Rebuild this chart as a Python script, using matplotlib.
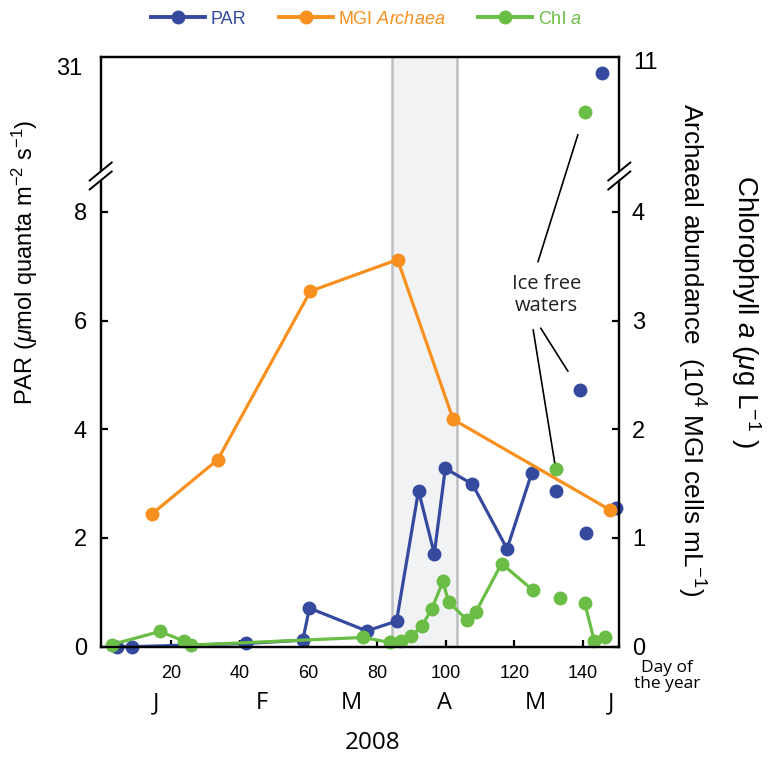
import matplotlib
matplotlib.use('Agg')
import matplotlib.pyplot as plt
from matplotlib.lines import Line2D
from matplotlib.patches import ConnectionPatch

plt.rcParams['font.family'] = ['Liberation Sans', 'DejaVu Sans']
plt.rcParams['mathtext.fontset'] = 'custom'
plt.rcParams['mathtext.rm'] = 'Liberation Sans'
plt.rcParams['mathtext.it'] = 'Liberation Sans:italic'
plt.rcParams['mathtext.default'] = 'regular'

BLUE = '#354a9f'
ORANGE = '#f7901e'
GREEN = '#6abd45'

# PAR (left axis), joined stations
par_days = [4.2, 8.5, 41.9, 58.4, 60.3, 77.0, 85.7, 92.1, 96.7, 99.9, 107.8, 117.9, 125.1]
par_vals = [0.0, 0.0, 0.06, 0.12, 0.71, 0.29, 0.47, 2.87, 1.71, 3.28, 2.99, 1.80, 3.20]
# PAR, single stations
par_free_days = [132.1, 139.1, 140.8, 149.5]
par_free_vals = [2.86, 4.72, 2.09, 2.56]
par_high_days = [145.7]
par_high_vals = [30.84]

# MGI Archaea (right axis, 10^4 cells/mL)
mgi_days = [14.4, 33.6, 60.6, 86.0, 102.2, 147.8]
mgi_vals = [1.22, 1.72, 3.27, 3.56, 2.09, 1.26]

# Chl a (right axis, ug/L)
chl_days = [2.7, 16.8, 23.9, 25.8, 75.9, 83.7, 86.9, 90.0, 93.1, 96.0, 99.2,
            100.9, 106.1, 108.8, 116.3, 125.4]
chl_vals = [0.02, 0.14, 0.05, 0.015, 0.085, 0.04, 0.055, 0.095, 0.19, 0.35, 0.60,
            0.41, 0.25, 0.32, 0.765, 0.52]
chl_free_days = [132.1, 133.2]
chl_free_vals = [1.63, 0.45]
chl_end_days = [140.5, 143.3, 146.3]
chl_end_vals = [0.405, 0.055, 0.09]
chl_high_days = [140.6]
chl_high_vals = [9.70]

ice_span = (84.4, 103.3)

month_labels = ['J', 'F', 'M', 'A', 'M', 'J']
month_pos = [15.6, 46.3, 72.4, 99.8, 126.0, 148.1]

FW, FH = 771, 760
fig = plt.figure(figsize=(FW / 100, FH / 100), dpi=100)

x0, x1 = 100.7, 619.3
ybot, ybrk, ytop = 646.7, 177.0, 57.3
ax = fig.add_axes([x0 / FW, 1 - ybot / FH, (x1 - x0) / FW, (ybot - ybrk) / FH])
axt = fig.add_axes([x0 / FW, 1 - ybrk / FH, (x1 - x0) / FW, (ybrk - ytop) / FH], sharex=ax)
axr = ax.twinx()
axtr = axt.twinx()

for a in (ax, axt):
    a.axvspan(*ice_span, facecolor='#f1f2f4', edgecolor='none', zorder=0)
    for d in ice_span:
        a.axvline(d, color='#bcbec0', lw=1.8, zorder=0.5)

mk = dict(marker='o', markersize=9, lw=2.3, clip_on=False)
ax.plot(par_days, par_vals, color=BLUE, **mk)
ax.plot(par_free_days, par_free_vals, color=BLUE, ls='none', **mk)
axt.plot(par_high_days, par_high_vals, color=BLUE, ls='none', **mk)

axr.plot(mgi_days, mgi_vals, color=ORANGE, **mk)
axr.plot(chl_days, chl_vals, color=GREEN, **mk)
axr.plot(chl_free_days, chl_free_vals, color=GREEN, ls='none', **mk)
axr.plot(chl_end_days, chl_end_vals, color=GREEN, **mk)
axtr.plot(chl_high_days, chl_high_vals, color=GREEN, ls='none', **mk)

ax.set_xlim(-0.5, 150.6)
ax.set_ylim(0, 8.64)
axr.set_ylim(0, 4.32)
axt.set_ylim(28.25, 31.24)
axtr.set_ylim(8.08, 11.07)

for a in (ax, axr):
    a.spines['top'].set_visible(False)
for a in (axt, axtr):
    a.spines['bottom'].set_visible(False)
for a in (ax, axr, axt, axtr):
    for s in a.spines.values():
        s.set_linewidth(1.6)

ax.set_xticks(range(20, 141, 20))
ax.tick_params(axis='x', direction='in', length=5, width=1.6, labelsize=13, pad=13)
ax.set_yticks([0, 2, 4, 6, 8])
ax.tick_params(axis='y', direction='in', length=5, width=1.6, labelsize=17, pad=10)
axr.set_yticks([0, 1, 2, 3, 4])
axr.tick_params(axis='y', direction='in', length=5, width=1.6, labelsize=17, pad=9)
axt.set_yticks([31])
axt.tick_params(axis='y', length=0, labelsize=17, pad=13)
axt.tick_params(axis='x', bottom=False, labelbottom=False)
axtr.set_yticks([11])
axtr.tick_params(axis='y', length=0, labelsize=17, pad=10)

# axis break marks
for xb in (x0, x1):
    yb = ybrk - 1
    fig.add_artist(Line2D([(xb - 9) / FW, (xb + 9) / FW], [1 - (yb + 7) / FH, 1 - (yb - 7) / FH],
                          color='white', lw=4, transform=fig.transFigure))
    for off in (-4.5, 4.5):
        fig.add_artist(Line2D([(xb - 11) / FW, (xb + 11) / FW],
                              [1 - (yb + 9 + off) / FH, 1 - (yb - 9 + off) / FH],
                              color='black', lw=1.4, transform=fig.transFigure))

# labels
mono = ['Open Sans', 'DejaVu Sans']
fig.text(25 / FW, 1 - 262 / FH, r'PAR ($\mathit{\mu}$mol quanta m$^{-2}$ s$^{-1}$)',
         rotation=90, ha='center', va='center', fontsize=17)
fig.text(691 / FW, 1 - 350 / FH, r'Archaeal abundance  (10$^{4}$ MGI cells mL$^{-1}$)',
         rotation=-90, ha='center', va='center', fontsize=18.8)
fig.text(746 / FW, 1 - 312 / FH, r'Chlorophyll $\mathit{a}$ ($\mathit{\mu}$g L$^{-1}$ )',
         rotation=-90, ha='center', va='center', fontsize=20)

xt = ax.get_xaxis_transform()
for lab, pos in zip(month_labels, month_pos):
    ax.text(pos, -0.12, lab, transform=xt, ha='center', va='center', fontsize=17, family=mono)
fig.text(373 / FW, 1 - 743 / FH, '2008', ha='center', va='center', fontsize=17.5, family=mono)
fig.text(667 / FW, 1 - 676 / FH, 'Day of\nthe year', ha='center', va='center', fontsize=12.5,
         family=mono, linespacing=0.95)

ax.text(129.4, 6.47, 'Ice free\nwaters', ha='center', va='center', fontsize=14.5,
        family=mono, color='#231f20', linespacing=1.1)

# leader lines
leaders = [((126.9, 7.08), axtr, (chl_high_days[0], chl_high_vals[0]), 17),
           ((125.5, 5.83), axr, (chl_free_days[0], chl_free_vals[0]), 5),
           ((127.7, 5.86), ax, (par_free_days[1], par_free_vals[1]), 16)]
for start, tax, end, shr in leaders:
    cp = ConnectionPatch(start, end, coordsA=ax.transData, coordsB=tax.transData,
                         color='black', lw=1.2, shrinkA=0, shrinkB=shr)
    fig.add_artist(cp)

handles = [Line2D([], [], color=c, marker='o', markersize=9, lw=2.8) for c in (BLUE, ORANGE, GREEN)]
fig.legend(handles, ['PAR', r'MGI $\mathit{Archaea}$', r'Chl $\mathit{a}$'],
           loc='center', bbox_to_anchor=(366 / FW, 1 - 19 / FH), ncol=3, frameon=False,
           handlelength=3.0, handletextpad=0.3, columnspacing=1.8, fontsize=13,
           labelcolor='linecolor')

fig.savefig('out.png', dpi=100)
